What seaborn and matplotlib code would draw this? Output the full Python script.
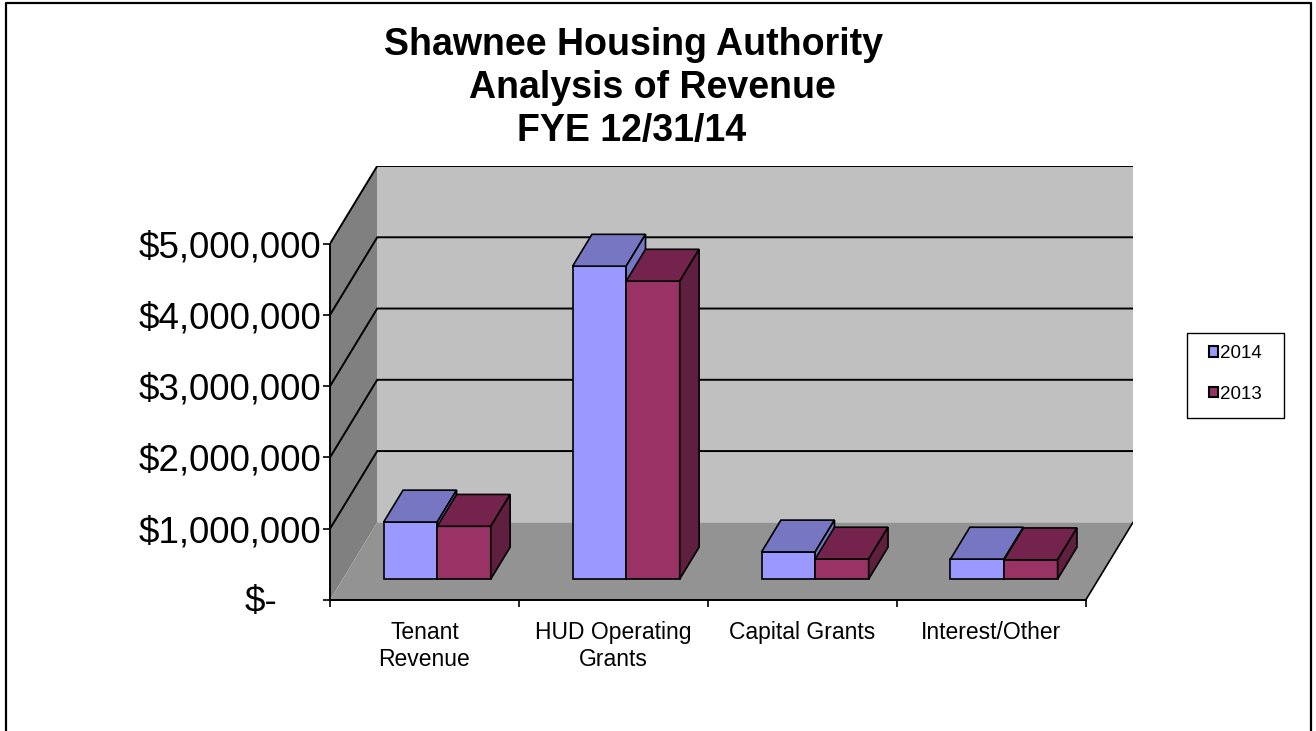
import numpy as np
import pandas as pd
import matplotlib
matplotlib.use("Agg")
import matplotlib.pyplot as plt
import seaborn as sns
from matplotlib.patches import Polygon, Rectangle, Patch
from matplotlib.lines import Line2D

# data
categories = ["Tenant\nRevenue", "HUD Operating\nGrants", "Capital Grants", "Interest/Other"]
years = ["2014", "2013"]
revenue_2014 = [800000, 4390000, 380000, 280000]
revenue_2013 = [740000, 4180000, 280000, 270000]
yticks = [0, 1000000, 2000000, 3000000, 4000000, 5000000]
ytick_labels = ["$-", "$1,000,000", "$2,000,000", "$3,000,000", "$4,000,000", "$5,000,000"]
title_lines = ["Shawnee Housing Authority", "Analysis of Revenue", "FYE 12/31/14"]

front_colors = {"2014": "#9999ff", "2013": "#993366"}
top_colors = {"2014": "#7676c2", "2013": "#74244c"}
side_colors = {"2014": "#7676c2", "2013": "#5f1f3f"}

df = pd.DataFrame({
    "category": categories * 2,
    "year": ["2014"] * len(categories) + ["2013"] * len(categories),
    "value": revenue_2014 + revenue_2013,
})

sns.set_theme(style="white", rc={"text.color": "black", "xtick.color": "black",
                                  "ytick.color": "black", "axes.labelcolor": "black"})
plt.rcParams["font.family"] = ["Liberation Sans", "DejaVu Sans"]

W, H = 1316, 731
fig = plt.figure(figsize=(W / 100, H / 100), dpi=100)
ax = fig.add_axes([330 / W, 131 / H, 803 / W, 434 / H])
ax.patch.set_visible(False)

# fake 3d depth (category units / value units)
DX = 0.25
DY = 1.09e6
FRONT = 0.27   # bars front face position inside the depth
BAR_D = 0.41   # bar depth
ymax = yticks[-1]
n = len(categories)

# walls and floor
ax.add_patch(Polygon([(-0.5, 0), (-0.5, ymax), (-0.5 + DX, ymax + DY), (-0.5 + DX, DY)],
                     fc="#808080", ec="none", zorder=0))
ax.add_patch(Polygon([(-0.5, 0), (n - 0.5, 0), (n - 0.5 + DX, DY), (-0.5 + DX, DY)],
                     fc="#939393", ec="none", zorder=0))
ax.add_patch(Rectangle((-0.5 + DX, DY), n, ymax, fc="#c0c0c0", ec="none", zorder=0))
for v in yticks[1:]:
    ax.plot([-0.5, -0.5 + DX, n - 0.5 + DX], [v, v + DY, v + DY], color="black", lw=1.4, zorder=1)
ax.plot([n - 0.5, n - 0.5 + DX], [0, DY], color="black", lw=1.2, zorder=1)

sns.barplot(data=df, x="category", y="value", hue="year", hue_order=years,
            palette=front_colors, width=0.567, saturation=1, errorbar=None,
            edgecolor="black", linewidth=1.2, legend=False, ax=ax)

# turn the flat bars into boxes
for year, cont in zip(years, ax.containers):
    z = 3 if year == "2014" else 4
    for bar in cont:
        x0 = bar.get_x() + FRONT * DX
        y0 = FRONT * DY
        w, h = bar.get_width(), bar.get_height()
        bar.set_x(x0)
        bar.set_y(y0)
        bar.set_zorder(z)
        x1, y1 = x0 + w, y0 + h
        bx, by = BAR_D * DX, BAR_D * DY
        ax.add_patch(Polygon([(x0, y1), (x1, y1), (x1 + bx, y1 + by), (x0 + bx, y1 + by)],
                             fc=top_colors[year], ec="black", lw=1.2, zorder=z))
        ax.add_patch(Polygon([(x1, y0), (x1, y1), (x1 + bx, y1 + by), (x1 + bx, y0 + by)],
                             fc=side_colors[year], ec="black", lw=1.2, zorder=z))

ax.set_xlim(-0.5, n - 0.5 + DX)
ax.set_ylim(0, ymax + DY)
ax.set_xlabel("")
ax.set_ylabel("")

for s in ["top", "right"]:
    ax.spines[s].set_visible(False)
for s in ["left", "bottom"]:
    ax.spines[s].set_color("black")
    ax.spines[s].set_linewidth(1.4)
    ax.spines[s].set_zorder(5)
ax.spines["left"].set_bounds(0, ymax)
ax.spines["bottom"].set_bounds(-0.5, n - 0.5)

ax.set_xticks(range(n), labels=categories, fontsize=16.5, linespacing=1.25)
ax.set_xticks(np.arange(-0.5, n, 1.0), minor=True)
ax.set_yticks(yticks, labels=[""] + ytick_labels[1:], fontsize=26.5)
ax.tick_params(axis="x", which="major", bottom=True, length=0, pad=15)
ax.tick_params(axis="x", which="minor", bottom=True, length=5, width=1.2, direction="out")
ax.tick_params(axis="y", left=True, length=5, width=1.2, direction="out", pad=1)
# accounting style zero sits further left
ax.annotate(ytick_labels[0], xy=(-0.5, 0), xytext=(-38, -2), textcoords="offset points",
            ha="right", va="center", fontsize=26.5)

# title
for line, (cx, cy) in zip(title_lines, [(633, 45), (652, 88), (632, 131)]):
    fig.text(cx / W, 1 - cy / H, line, ha="center", va="center",
             fontsize=27, fontweight="bold")

# legend
fig.add_artist(Rectangle((1187 / W, 1 - 418 / H), 97 / W, 85 / H, transform=fig.transFigure,
                         fc="white", ec="black", lw=1.0))
handles = [Patch(fc=front_colors[y], ec="black", lw=1.5) for y in years]
fig.legend(handles=handles, labels=years, loc="center",
           bbox_to_anchor=(1235 / W, 1 - 374 / H), frameon=False, fontsize=13.5,
           handlelength=0.5, handleheight=0.5, handletextpad=0.1, labelspacing=1.25)

# outer border of the chart area
fig.add_artist(Line2D([6 / W, 6 / W, 1311 / W, 1311 / W], [0, 1 - 3 / H, 1 - 3 / H, 0],
                      transform=fig.transFigure, color="black", lw=1.6))

fig.savefig("out.png", dpi=100)
